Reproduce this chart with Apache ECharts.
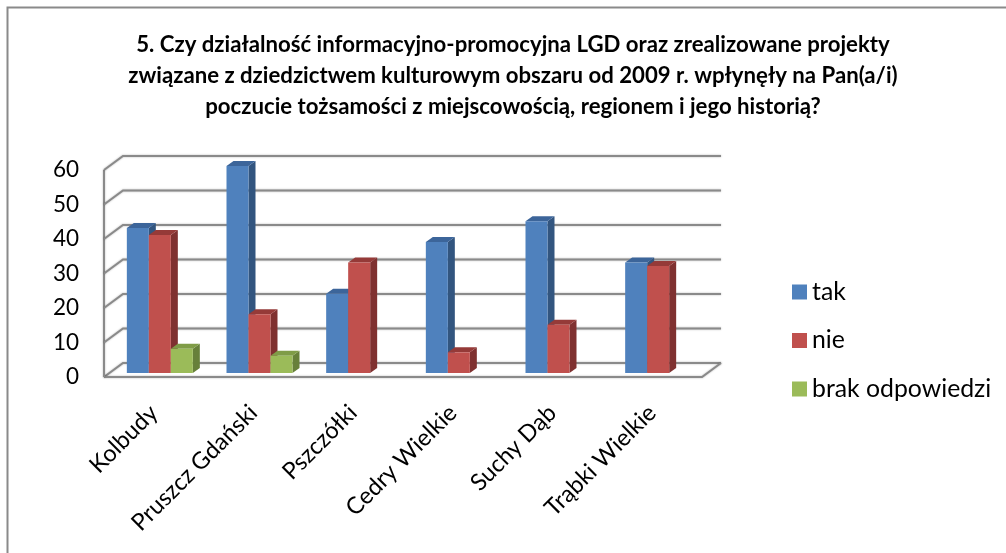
<!DOCTYPE html>
<html>
<head>
<meta charset="utf-8">
<title>Wykres 5</title>
<script src="https://cdn.jsdelivr.net/npm/echarts@6/dist/echarts.min.js"></script>
<style>
    html, body {margin: 0; padding: 0; background: #fff;}
    #chart {width: 1006px; height: 553px;}
</style>
</head>
<body>
<div id="chart"></div>
<script>
var categories = ['Kolbudy', 'Pruszcz Gdański', 'Pszczółki', 'Cedry Wielkie', 'Suchy Dąb', 'Trąbki Wielkie'];
var ticks = [0, 10, 20, 30, 40, 50, 60];
var tak = [42, 60, 23, 38, 44, 32];
var nie = [40, 17, 32, 6, 14, 31];
var brak = [7, 5, null, null, null, null];
var titleLines = [
    '5. Czy działalność informacyjno-promocyjna LGD oraz zrealizowane projekty',
    'związane z dziedzictwem kulturowym obszaru od 2009 r. wpłynęły na Pan(a/i)',
    'poczucie tożsamości z miejscowością, regionem i jego historią?'
];

var fontName = 'Lato';
var wallColor = '#8a8a8a';
var depthX = 19, depthY = 14;     // depth of the floor
var barDepthX = 7, barDepthY = 5; // depth of one bar
var barWidth = 22;

var chart = echarts.init(document.getElementById('chart'));

// gridlines of the fake 3d box, one item for every tick
function renderWall(params, api) {
    var v = api.value(0);
    var y = api.coord([0, v])[1];
    var left = params.coordSys.x;
    var right = left + params.coordSys.width;
    var style = {stroke: wallColor, lineWidth: 2, fill: null, shadowBlur: 2, shadowColor: 'rgba(0,0,0,0.3)'};
    var children = [
        {type: 'polyline', shape: {points: [[left, y], [left + depthX, y - depthY], [right + depthX, y - depthY]]}, style: style}
    ];
    if (v === 0) {
        children.push({type: 'polyline', shape: {points: [[left, y], [right, y], [right + depthX, y - depthY]]}, style: style});
        children.push({type: 'line', shape: {x1: left, y1: y, x2: left, y2: api.coord([0, ticks[ticks.length - 1]])[1]}, style: style});
    }
    return {type: 'group', children: children};
}

function barRenderer(slot, front, top, side) {
    return function (params, api) {
        var val = api.value(1);
        if (val == null || isNaN(val)) {
            return;
        }
        var p = api.coord([api.value(0), val]);
        var base = api.coord([api.value(0), 0]);
        // bars stand a little behind the front edge of the floor
        var x = p[0] + 6 + (slot - 1.5) * barWidth;
        var yTop = p[1] - 4;
        var yBase = base[1] - 4;
        return {
            type: 'group',
            children: [
                {type: 'polygon', shape: {points: [[x + barWidth, yTop], [x + barWidth + barDepthX, yTop - barDepthY], [x + barWidth + barDepthX, yBase - barDepthY], [x + barWidth, yBase]]}, style: {fill: side}},
                {type: 'polygon', shape: {points: [[x, yTop], [x + barDepthX, yTop - barDepthY], [x + barWidth + barDepthX, yTop - barDepthY], [x + barWidth, yTop]]}, style: {fill: top}},
                {type: 'rect', shape: {x: x, y: yTop, width: barWidth, height: yBase - yTop}, style: {fill: front}}
            ]
        };
    };
}

function barSeries(name, values, slot, front, top, side) {
    return {
        name: name,
        type: 'custom',
        z: 3,
        itemStyle: {color: front},
        renderItem: barRenderer(slot, front, top, side),
        encode: {x: 0, y: 1},
        data: values.map(function (v, i) {
            return [i, v];
        })
    };
}

var option = {
    animation: false,
    backgroundColor: '#fff',
    textStyle: {fontFamily: fontName},
    title: {
        text: titleLines.join('\n'),
        left: 508,
        top: 24,
        textAlign: 'center',
        textStyle: {fontFamily: fontName, fontSize: 22.2, fontWeight: 'bold', color: '#000', lineHeight: 31}
    },
    legend: {
        orient: 'vertical',
        left: 787,
        top: 273,
        itemWidth: 15,
        itemHeight: 15,
        itemGap: 20.5,
        icon: 'rect',
        data: ['tak', 'nie', 'brak odpowiedzi'],
        textStyle: {fontFamily: fontName, fontSize: 24.8, color: '#000', lineHeight: 28}
    },
    grid: {left: 104, top: 170, width: 598, height: 207},
    xAxis: {
        type: 'category',
        data: categories,
        axisLine: {show: false},
        axisTick: {show: false},
        axisLabel: {rotate: 45, fontSize: 23.5, color: '#000', fontFamily: fontName, margin: 32, interval: 0}
    },
    yAxis: {
        type: 'value',
        min: 0,
        max: 60,
        interval: 10,
        axisLine: {show: false},
        axisTick: {show: false},
        splitLine: {show: false},
        axisLabel: {fontSize: 22.5, color: '#000', fontFamily: fontName, margin: 25, padding: [5, 0, 0, 0]}
    },
    series: [
        {
            type: 'custom',
            z: 1,
            silent: true,
            renderItem: renderWall,
            encode: {y: 0},
            data: ticks.map(function (t) {
                return [t];
            })
        },
        barSeries('tak', tak, 0, '#4F81BD', '#3C659A', '#32557F'),
        barSeries('nie', nie, 1, '#C0504D', '#953A38', '#7F3130'),
        barSeries('brak odpowiedzi', brak, 2, '#9BBB59', '#7F9C47', '#67803A')
    ],
    graphic: [
        {type: 'polyline', shape: {points: [[7.5, 553], [7.5, 7.5], [1006, 7.5]]}, style: {stroke: wallColor, lineWidth: 2, fill: null}}
    ]
};
chart.setOption(option);
</script>
</body>
</html>
